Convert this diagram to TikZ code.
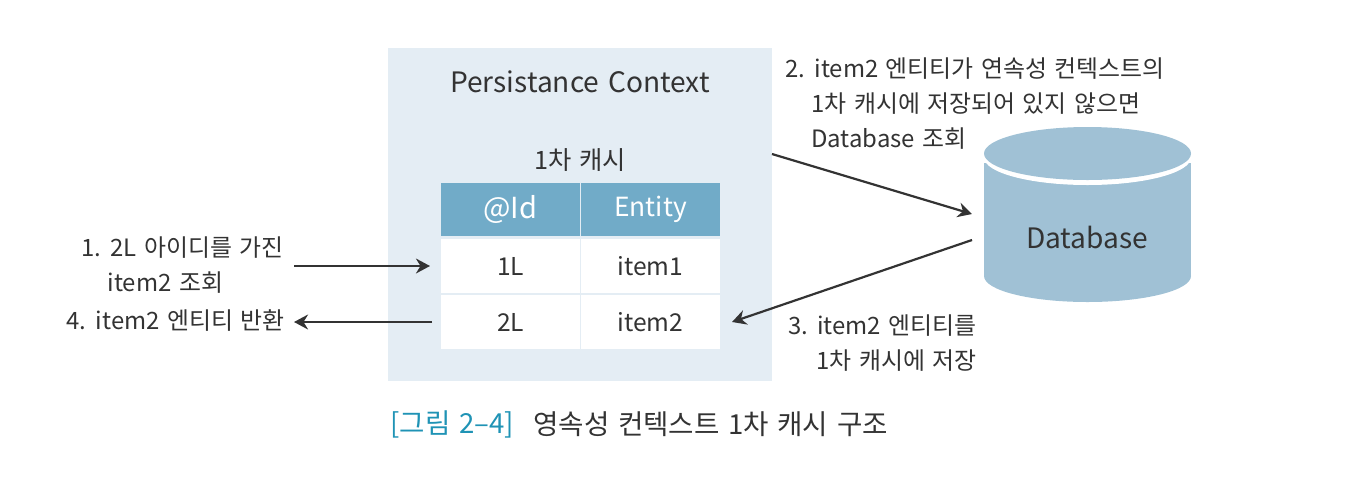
\documentclass[tikz,border=0pt]{standalone}
\usepackage{fontspec}
\setmainfont[WordSpace=1.4]{Noto Sans CJK KR}
\usepackage{tikz}
\usetikzlibrary{
  arrows.meta,
  positioning
}
\definecolor{panelblue}{HTML}{E4EDF4}
\definecolor{headblue}{HTML}{71ABC8}
\definecolor{dbblue}{HTML}{A0C1D5}
\definecolor{captionblue}{HTML}{1F93B5}
\definecolor{inkgray}{HTML}{333333}
\tikzset{>={Stealth[length=8pt,width=8.5pt]}}
\tikzset{
  body text/.style={text=inkgray,font=\fontsize{13.6}{20}\selectfont,inner sep=0pt},
  large text/.style={text=inkgray,font=\fontsize{16}{20}\selectfont,inner sep=0pt},
  caption text/.style={font=\fontsize{15.7}{20}\selectfont,inner sep=0pt,anchor=west},
  head cell/.style={fill=headblue,text=white,font=\fontsize{15}{20}\selectfont,minimum height=30.2pt,minimum width=79pt,anchor=center,inner sep=0pt},
  row cell/.style={fill=white,text=inkgray,font=\fontsize{14}{20}\selectfont,minimum height=31pt,minimum width=79pt,anchor=center,inner sep=0pt},
  flow/.style={->,draw=inkgray,line width=1.25pt}
}
\begin{document}
\begin{tikzpicture}[x=0.02cm,y=-0.02cm]
	\useasboundingbox (0,0) rectangle (1355,491);
	\fill[panelblue] (388,48) rectangle (772,381);
	\node[large text] (title) at (580,82) {Persistance Context};
	\node[body text,font=\fontsize{14.4}{20}\selectfont] (cache) at (580,160) {1차 캐시};
	\node[head cell] (idHead) at (510.5,209.5) {\fontsize{16.5}{20}\selectfont @Id};
	\node[head cell] (entityHead) at (650.5,209.5) {Entity};
	\node[row cell] (idOne) at (510.5,266) {1L};
	\node[row cell] (itemOne) at (650.5,266) {item1};
	\node[row cell] (idTwo) at (510.5,322) {2L};
	\node[row cell] (itemTwo) at (650.5,322) {item2};
	\fill[dbblue] (984,163) rectangle (1191,276);
	\fill[dbblue] (1087.5,276) ellipse[x radius=103.5,y radius=26];
	\fill[white] (1087.5,157.5) ellipse[x radius=103.5,y radius=27.5];
	\fill[dbblue] (1087.5,153.5) ellipse[x radius=103.5,y radius=26.5];
	\node[large text] (database) at (1087,237) {Database};
	\node[body text,align=left,anchor=north west] (stepTwo) at (785,57) {2. item2 엔티티가 연속성 컨텍스트의\\\hspace*{14.8pt}1차 캐시에 저장되어 있지 않으면\\\hspace*{14.8pt}Database 조회};
	\node[body text,align=right,anchor=north east] (stepThree) at (977,314) {3. item2 엔티티를\\1차 캐시에 저장};
	\node[body text,align=left,anchor=north west] (stepOne) at (81,236) {1. 2L 아이디를 가진\\\hspace*{15pt}item2 조회};
	\node[body text,anchor=east] (stepFour) at (285,321) {4. item2 엔티티 반환};
	\node[caption text,text=captionblue] (captionTag) at (390,424) {[그림 2–4]};
	\node[caption text,text=inkgray] (captionText) at (533,424) {영속성 컨텍스트 1차 캐시 구조};
	\coordinate (inStart) at (294,266);
	\coordinate (inEnd) at (430,266);
	\coordinate (outStart) at (432,322);
	\coordinate (outEnd) at (294,322);
	\coordinate (queryStart) at (772,154);
	\coordinate (queryEnd) at (972,214);
	\coordinate (saveStart) at (972,240);
	\coordinate (saveEnd) at (732,322);
	\draw[flow] (inStart) -- (inEnd);
	\draw[flow] (outStart) -- (outEnd);
	\draw[flow] (queryStart) -- (queryEnd);
	\draw[flow] (saveStart) -- (saveEnd);
\end{tikzpicture}
\end{document}
